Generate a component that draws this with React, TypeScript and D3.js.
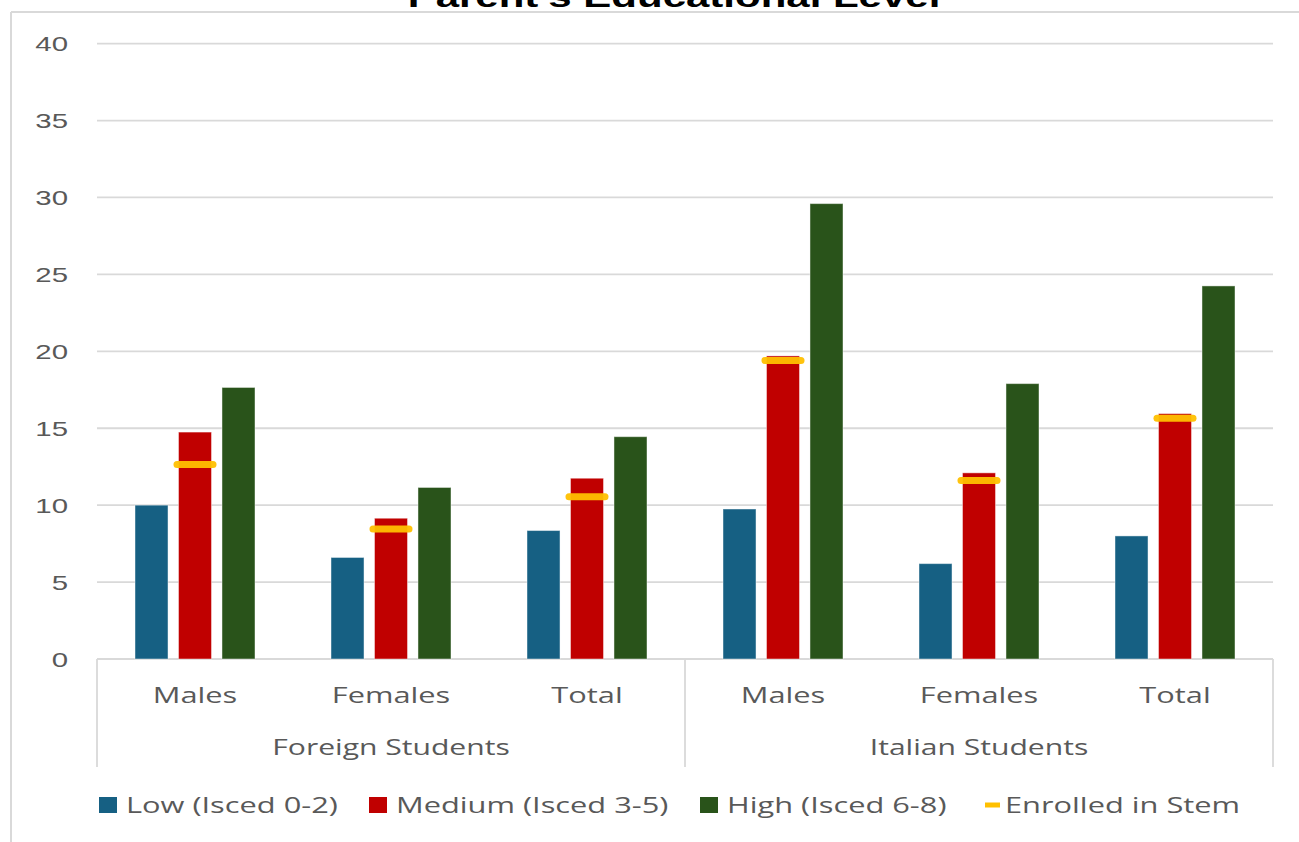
import React from "react";
import * as d3 from "d3";

const groups = ["Foreign Students", "Italian Students"];
const subCats = ["Males", "Females", "Total"];
const categories = ["F-Males", "F-Females", "F-Total", "I-Males", "I-Females", "I-Total"];
const lowValues = [10.0, 6.6, 8.35, 9.75, 6.2, 8.0];
const mediumValues = [14.75, 9.15, 11.75, 19.7, 12.1, 15.95];
const highValues = [17.65, 11.15, 14.45, 29.6, 17.9, 24.25];
const stemValues = [12.65, 8.45, 10.55, 19.4, 11.6, 15.65];
const seriesNames = ["Low (Isced 0-2)", "Medium (Isced 3-5)", "High (Isced 6-8)"];
const stemName = "Enrolled in Stem";
const yTicks = [0, 5, 10, 15, 20, 25, 30, 35, 40];
const title = "Parent's Educational Level";

const COLORS = ["#166083", "#C00000", "#29531A"];
const STEM = "#FFC000";
const GRID = "#d9d9d9";
const TEXT = "#595959";
const SX = 1.4;

export default function App() {
  const W = 1299, H = 842;
  const left = 97, right = 1273, top = 43.6, bottom = 659;
  const y = d3.scaleLinear().domain([0, 40]).range([bottom, top]);
  const x0 = d3.scaleBand<string>().domain(categories).range([left, right]).padding(0);
  const inner = 120;
  const x1 = d3.scaleBand<string>().domain(["0", "1", "2"]).range([0, inner]).paddingInner(0.241).paddingOuter(0);
  const series = [lowValues, mediumValues, highValues];
  const groupW = x0.bandwidth();
  const off = (groupW - inner) / 2;

  const stretched = (x: number, yy: number, txt: string, props: any) => (
    <text transform={`translate(${x},${yy}) scale(${SX},1)`} {...props}>{txt}</text>
  );

  const legendX = [99, 369, 700, 985];

  return (
    <svg width={W} height={H} style={{ position: "absolute", left: 0, top: 0, background: "#fff" }}>
      {/* frame */}
      <line x1={11} x2={W} y1={12} y2={12} stroke={GRID} strokeWidth={2} />
      <line x1={11} x2={11} y1={12} y2={H} stroke={GRID} strokeWidth={2} />
      {stretched(674, 7, title, { textAnchor: "middle", fontFamily: "Liberation Sans, Arial, sans-serif", fontWeight: 700, fontSize: 30, fill: "#000" })}

      {/* grid */}
      {yTicks.map((t) => (
        <g key={t}>
          <line x1={left} x2={right} y1={y(t)} y2={y(t)} stroke={GRID} strokeWidth={1.8} />
          {stretched(68, y(t) + 7.5, String(t), { textAnchor: "end", fontFamily: "Liberation Sans, Arial, sans-serif", fontSize: 21, fill: TEXT })}
        </g>
      ))}

      {/* bars */}
      {categories.map((c, i) => {
        const gx = (x0(c) as number) + off;
        return (
          <g key={c}>
            {series.map((vals, s) => (
              <rect key={s} x={gx + (x1(String(s)) as number)} y={y(vals[i])} width={x1.bandwidth()} height={y(0) - y(vals[i])}
                fill={COLORS[s]} stroke="#ffffff" strokeOpacity={0.45} strokeWidth={1} />
            ))}
            <line x1={gx + (x1("1") as number) - 1.5} x2={gx + (x1("1") as number) + x1.bandwidth() + 1.5}
              y1={y(stemValues[i])} y2={y(stemValues[i])} stroke={STEM} strokeWidth={7} strokeLinecap="round" strokeOpacity={0.95} />
          </g>
        );
      })}

      {/* category axis */}
      {[left, (left + right) / 2, right].map((xx, i) => (
        <line key={i} x1={xx} x2={xx} y1={bottom} y2={767} stroke={GRID} strokeWidth={1.8} />
      ))}
      {categories.map((c, i) =>
        <g key={c}>{stretched((x0(c) as number) + groupW / 2, 703, subCats[i % 3], { textAnchor: "middle", fontFamily: "Open Sans, sans-serif", fontSize: 22, fill: TEXT })}</g>
      )}
      {groups.map((g, gi) =>
        <g key={g}>{stretched(left + (right - left) / 4 * (gi * 2 + 1), 755, g, { textAnchor: "middle", fontFamily: "Open Sans, sans-serif", fontSize: 21.5, fill: TEXT })}</g>
      )}

      {/* legend */}
      {seriesNames.map((n, i) => (
        <g key={n}>
          <rect x={legendX[i]} y={797} width={18} height={16} fill={COLORS[i]} />
          {stretched(legendX[i] + 27, 813, n, { fontFamily: "Open Sans, sans-serif", fontSize: 22, fill: TEXT })}
        </g>
      ))}
      <line x1={legendX[3]} x2={legendX[3] + 15} y1={805} y2={805} stroke={STEM} strokeWidth={5} />
      {stretched(legendX[3] + 20, 813, stemName, { fontFamily: "Open Sans, sans-serif", fontSize: 22, fill: TEXT })}
    </svg>
  );
}
